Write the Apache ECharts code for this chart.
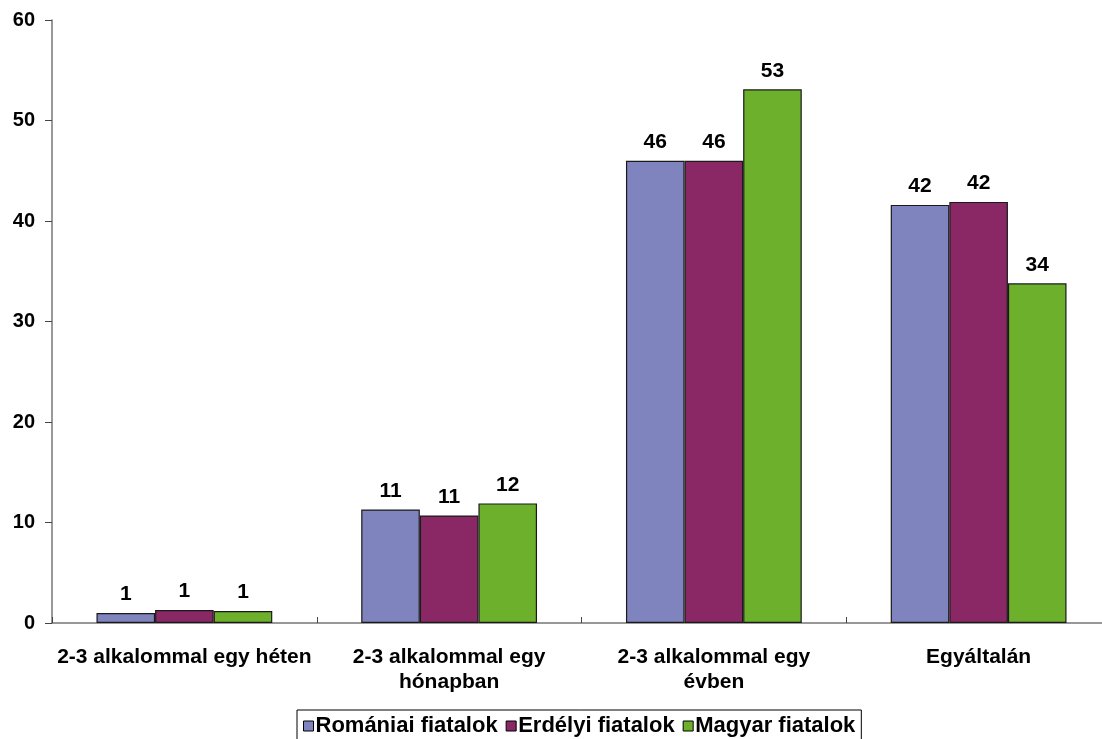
<!DOCTYPE html>
<html>
<head>
<meta charset="utf-8">
<script src="https://cdn.jsdelivr.net/npm/echarts@6/dist/echarts.min.js"></script>
<style>
html,body{margin:0;padding:0;background:#fff;overflow:hidden;width:1102px;height:739px;}
#chart{width:1115px;height:739px;}
</style>
</head>
<body>
<div id="chart"></div>
<script>
var categories = ['2-3 alkalommal egy héten', '2-3 alkalommal egy\nhónapban', '2-3 alkalommal egy\névben', 'Egyáltalán'];
var seriesNames = ['Romániai fiatalok', 'Erdélyi fiatalok', 'Magyar fiatalok'];
var romaniai = [1.0, 11.3, 46.0, 41.6];
var erdelyi = [1.3, 10.7, 46.0, 41.9];
var magyar = [1.2, 11.9, 53.1, 33.8];
var yTicks = [0, 10, 20, 30, 40, 50, 60];
var colors = ['#8084BE', '#8A2865', '#6DB02B'];

var font = 'Liberation Sans, Arial, sans-serif';
var chart = echarts.init(document.getElementById('chart'));
function mk(name, data, color) {
  return {
    name: name, type: 'bar', data: data,
    barGap: '0%', barCategoryGap: '33.6%',
    itemStyle: { color: color, borderColor: '#1a1a1a', borderWidth: 1.2 },
    label: {
      show: true, position: 'top', distance: 8,
      fontFamily: font, fontWeight: 'bold', fontSize: 21, color: '#000',
      formatter: function (p) { return Math.round(p.value); }
    },
    emphasis: { disabled: true }
  };
}
chart.setOption({
  animation: false,
  backgroundColor: '#fff',
  grid: { left: 52, top: 20, width: 1059, height: 603, containLabel: false },
  legend: {
    data: seriesNames,
    left: 297, top: 710,
    padding: [5, 6, 12, 6],
    borderColor: '#000', borderWidth: 1,
    itemWidth: 10, itemHeight: 10, itemGap: 8,
    icon: 'rect',
    itemStyle: { borderColor: '#000', borderWidth: 1 },
    textStyle: { fontFamily: font, fontWeight: 'bold', fontSize: 22, color: '#000', padding: [0, 0, 0, -3] }
  },
  xAxis: {
    type: 'category', data: categories,
    axisLine: { lineStyle: { color: '#777', width: 1.5 } },
    axisTick: { show: true, inside: true, length: 6, alignWithLabel: false, lineStyle: { color: '#444' } },
    axisLabel: { fontFamily: font, fontWeight: 'bold', fontSize: 21, color: '#000', margin: 22, lineHeight: 25, interval: 0 }
  },
  yAxis: {
    type: 'value', min: yTicks[0], max: yTicks[yTicks.length - 1], interval: 10,
    axisLine: { show: true, lineStyle: { color: '#777', width: 1.5 } },
    axisTick: { show: true, length: 7, lineStyle: { color: '#444' } },
    splitLine: { show: false },
    axisLabel: { fontFamily: font, fontWeight: 'bold', fontSize: 20, color: '#000', margin: 17 }
  },
  series: [mk(seriesNames[0], romaniai, colors[0]), mk(seriesNames[1], erdelyi, colors[1]), mk(seriesNames[2], magyar, colors[2])]
});
</script>
</body>
</html>
